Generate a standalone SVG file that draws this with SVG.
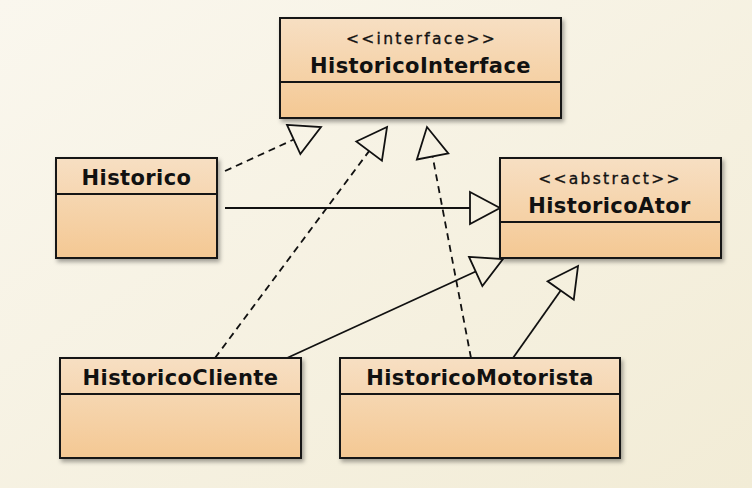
<svg xmlns="http://www.w3.org/2000/svg" width="752" height="488" viewBox="0 0 752 488">
  <defs>
    <linearGradient id="bg" x1="0" y1="0" x2="1" y2="1">
      <stop offset="0" stop-color="#faf7ee"/>
      <stop offset="1" stop-color="#f2ecd6"/>
    </linearGradient>
    <linearGradient id="boxfill" x1="0" y1="0" x2="0" y2="1">
      <stop offset="0" stop-color="#f7dfc3"/>
      <stop offset="1" stop-color="#f4c893"/>
    </linearGradient>
    <filter id="shadow" x="-10%" y="-10%" width="125%" height="135%">
      <feDropShadow dx="2" dy="3" stdDeviation="2.2" flood-color="#000" flood-opacity="0.35"/>
    </filter>
    <marker id="hollow" markerUnits="userSpaceOnUse" markerWidth="34" markerHeight="36" viewBox="-2 -18 34 36" refX="0" refY="0" orient="auto" overflow="visible">
      <path d="M0,-16 L30,0 L0,16 Z" fill="none" stroke="#111" stroke-width="1.8" stroke-linejoin="miter" stroke-dasharray="none"/>
    </marker>
    <style>
      .box { fill: url(#boxfill); stroke: #151515; stroke-width: 2; filter: url(#shadow); }
      .div { stroke: #151515; stroke-width: 2; }
      .name { font-family: "DejaVu Sans", "Liberation Sans", sans-serif; font-weight: bold; font-size: 21px; fill: #111; text-anchor: middle; letter-spacing: 0.4px; }
      .stereo { font-family: "DejaVu Sans", "Liberation Sans", sans-serif; font-size: 15.5px; fill: #111; stroke: #111; stroke-width: 0.35px; text-anchor: middle; letter-spacing: 2.3px; }
      .edge { fill: none; stroke: #111; stroke-width: 1.8; marker-end: url(#hollow); }
      .dashed { stroke-dasharray: 7 5; }
    </style>
  </defs>

  <rect x="0" y="0" width="752" height="488" fill="url(#bg)"/>

  <g id="connectors">
    <path class="edge dashed" d="M225,171 L293.7,139.5"/>
    <path class="edge dashed" d="M215,358 L369.1,151.1"/>
    <path class="edge dashed" d="M471,358 L432.6,156.5"/>
    <path class="edge" d="M225,208 L470,208"/>
    <path class="edge" d="M287,358 L475.7,271.5"/>
    <path class="edge" d="M513,358 L560.7,290.5"/>
  </g>

  <g id="HistoricoInterface">
    <rect class="box" x="280" y="18" width="281" height="100"/>
    <line class="div" x1="280" y1="82" x2="561" y2="82"/>
    <text class="stereo" x="421.5" y="44">&lt;&lt;interface&gt;&gt;</text>
    <text class="name" x="420.5" y="73">HistoricoInterface</text>
  </g>

  <g id="Historico">
    <rect class="box" x="56" y="158" width="161" height="100"/>
    <line class="div" x1="56" y1="194" x2="217" y2="194"/>
    <text class="name" x="136.5" y="185">Historico</text>
  </g>

  <g id="HistoricoAtor">
    <rect class="box" x="500" y="158" width="221" height="100"/>
    <line class="div" x1="500" y1="222" x2="721" y2="222"/>
    <text class="stereo" x="610" y="184">&lt;&lt;abstract&gt;&gt;</text>
    <text class="name" x="609.5" y="213">HistoricoAtor</text>
  </g>

  <g id="HistoricoCliente">
    <rect class="box" x="60" y="358" width="241" height="100"/>
    <line class="div" x1="60" y1="394" x2="301" y2="394"/>
    <text class="name" x="180.5" y="385">HistoricoCliente</text>
  </g>

  <g id="HistoricoMotorista">
    <rect class="box" x="340" y="358" width="280" height="100"/>
    <line class="div" x1="340" y1="394" x2="620" y2="394"/>
    <text class="name" x="480" y="385">HistoricoMotorista</text>
  </g>
</svg>
